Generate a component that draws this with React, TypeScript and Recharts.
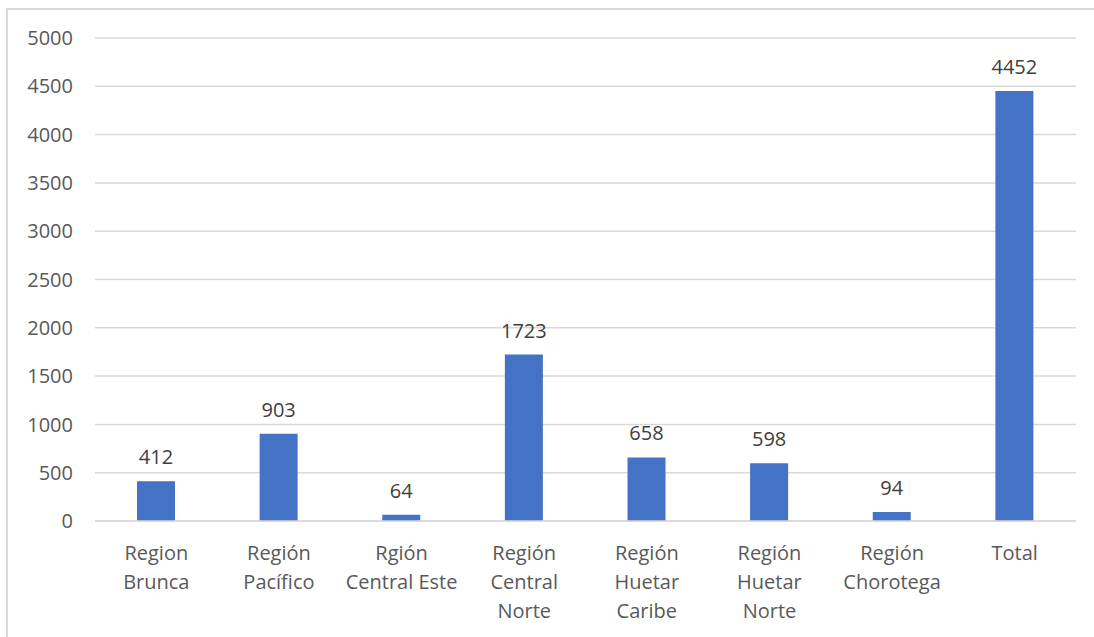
import { Bar, BarChart, CartesianGrid, LabelList, XAxis, YAxis } from "recharts";

const categories = [
  "Region Brunca",
  "Región Pacífico",
  "Rgión Central Este",
  "Región Central Norte",
  "Región Huetar Caribe",
  "Región Huetar Norte",
  "Región Chorotega",
  "Total",
];

// how each category label breaks into lines under the axis
const labelLines = [
  ["Region", "Brunca"],
  ["Región", "Pacífico"],
  ["Rgión", "Central Este"],
  ["Región", "Central", "Norte"],
  ["Región", "Huetar", "Caribe"],
  ["Región", "Huetar", "Norte"],
  ["Región", "Chorotega"],
  ["Total"],
];

const values = [412, 903, 64, 1723, 658, 598, 94, 4452];

const yTicks = [0, 500, 1000, 1500, 2000, 2500, 3000, 3500, 4000, 4500, 5000];

const chartData = categories.map((name, i) => ({ name, value: values[i] }));

const font = "'Open Sans', sans-serif";

const CategoryTick = (props: any) => {
  const { x, y, index } = props;
  const lines = labelLines[index] || [];
  return (
    <text x={x} y={y} textAnchor="middle" fill="#595959" fontSize={20} fontFamily={font}>
      {lines.map((line, i) => (
        <tspan key={i} x={x} dy={i === 0 ? 31 : 29}>
          {line}
        </tspan>
      ))}
    </text>
  );
};

const App = () => {
  return (
    <div style={{ position: "absolute", left: 0, top: 0, width: 1094, height: 637, overflow: "hidden", background: "#fff" }}>
      <div
        style={{
          position: "absolute",
          left: 6,
          top: 8,
          width: 1100,
          height: 640,
          borderLeft: "2px solid #d9d9d9",
          borderTop: "2px solid #d9d9d9",
        }}
      />
      <div style={{ position: "absolute", left: 0, top: 0 }}>
        <BarChart
          width={1094}
          height={637}
          data={chartData}
          margin={{ top: 38, right: 18, bottom: 0, left: 0 }}
          barSize={38}
        >
          <CartesianGrid vertical={false} stroke="#d9d9d9" strokeWidth={1.5} />
          <XAxis
            dataKey="name"
            axisLine={{ stroke: "#d9d9d9", strokeWidth: 1.5 }}
            tickLine={false}
            interval={0}
            tick={<CategoryTick />}
            height={116}
          />
          <YAxis
            width={95}
            domain={[0, 5000]}
            ticks={yTicks}
            axisLine={false}
            tickLine={false}
            tickMargin={16}
            tick={{ fill: "#595959", fontSize: 20, fontFamily: font }}
          />
          <Bar dataKey="value" fill="#4472c4" isAnimationActive={false}>
            <LabelList
              dataKey="value"
              position="top"
              offset={17}
              fill="#404040"
              fontSize={20}
              fontFamily={font}
            />
          </Bar>
        </BarChart>
      </div>
    </div>
  );
};

export default App;
